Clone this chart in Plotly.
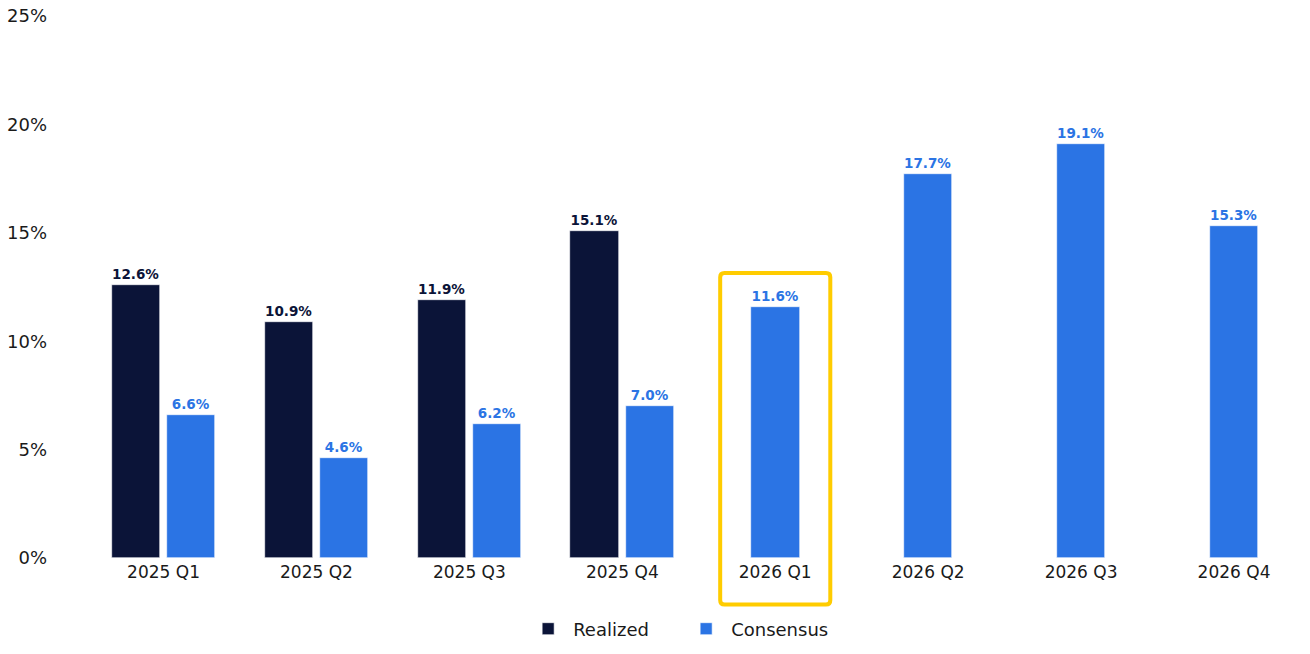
import plotly.graph_objects as go

categories = ["2025 Q1", "2025 Q2", "2025 Q3", "2025 Q4", "2026 Q1", "2026 Q2", "2026 Q3", "2026 Q4"]
realized = [12.6, 10.9, 11.9, 15.1, None, None, None, None]
consensus = [6.6, 4.6, 6.2, 7.0, 11.6, 17.7, 19.1, 15.3]
highlight = "2026 Q1"
y_ticks = [0, 5, 10, 15, 20, 25]

NAVY = "#0B1438"
BLUE = "#2B74E4"
YELLOW = "#FFCC00"

W = 0.318   # bar width (category units)
SHIFT = 0.18  # centre shift when paired
X_RANGE = [-0.677, 7.366]
Y_RANGE = [0, 25]

idx = list(range(len(categories)))

r_x = [i - SHIFT for i, v in zip(idx, realized) if v is not None]
r_y = [v for v in realized if v is not None]
c_x = [i + (SHIFT if realized[i] is not None else 0) for i in idx]

fig = go.Figure()
fig.add_trace(go.Bar(
    x=r_x, y=r_y, width=W, name="Realized",
    marker=dict(color=NAVY, line=dict(color="white", width=0.6)),
    text=[f"{v:.1f}%" for v in r_y], textposition="outside", cliponaxis=False,
    textfont=dict(family="DejaVu Sans", size=13.5, color=NAVY, weight="bold"),
))
fig.add_trace(go.Bar(
    x=c_x, y=consensus, width=W, name="Consensus",
    marker=dict(color=BLUE, line=dict(color="white", width=0.6)),
    text=[f"{v:.1f}%" for v in consensus], textposition="outside", cliponaxis=False,
    textfont=dict(family="DejaVu Sans", size=13.5, color=BLUE, weight="bold"),
))

# highlight box (rounded rectangle), converted to paper coords so it isn't clipped
def px(x):
    return (x - X_RANGE[0]) / (X_RANGE[1] - X_RANGE[0])

def py(y):
    return (y - Y_RANGE[0]) / (Y_RANGE[1] - Y_RANGE[0])

hi = categories.index(highlight)
hv = consensus[hi]
x0, x1 = px(hi - 0.36), px(hi + 0.36)
y0, y1 = py(-2.15), py(hv + 1.55)
rx, ry = 0.0035, 0.008
path = (f"M {x0+rx},{y0} L {x1-rx},{y0} Q {x1},{y0} {x1},{y0+ry} "
        f"L {x1},{y1-ry} Q {x1},{y1} {x1-rx},{y1} "
        f"L {x0+rx},{y1} Q {x0},{y1} {x0},{y1-ry} "
        f"L {x0},{y0+ry} Q {x0},{y0} {x0+rx},{y0} Z")
fig.add_shape(type="path", path=path, xref="paper", yref="paper",
              line=dict(color=YELLOW, width=4), layer="above")

fig.update_layout(
    width=1310, height=654,
    margin=dict(l=60, r=20, t=16, b=96, autoexpand=False),
    paper_bgcolor="white", plot_bgcolor="white",
    barmode="overlay",
    font=dict(family="DejaVu Sans", size=17, color="#1a1a1a"),
    showlegend=True,
    legend=dict(orientation="h", x=0.505, xanchor="center", y=-0.131, yanchor="middle",
                font=dict(size=18), traceorder="normal", itemwidth=40,
                entrywidth=103, entrywidthmode="pixels"),
    bargap=0,
)
fig.update_xaxes(
    tickvals=idx, ticktext=categories, range=X_RANGE, automargin=False,
    showgrid=False, zeroline=False, showline=False, ticks="",
    tickfont=dict(size=17), ticklabelstandoff=2,
)
fig.update_yaxes(
    range=Y_RANGE, tickvals=y_ticks, ticktext=[f"{t}%" for t in y_ticks], automargin=False,
    showgrid=False, zeroline=False, showline=False, ticks="",
    tickfont=dict(size=18), ticklabelstandoff=12, ticklabeloverflow="allow",
)

fig.write_html("out.html", config={"displayModeBar": False},
               post_script="document.body.style.margin='0';")
